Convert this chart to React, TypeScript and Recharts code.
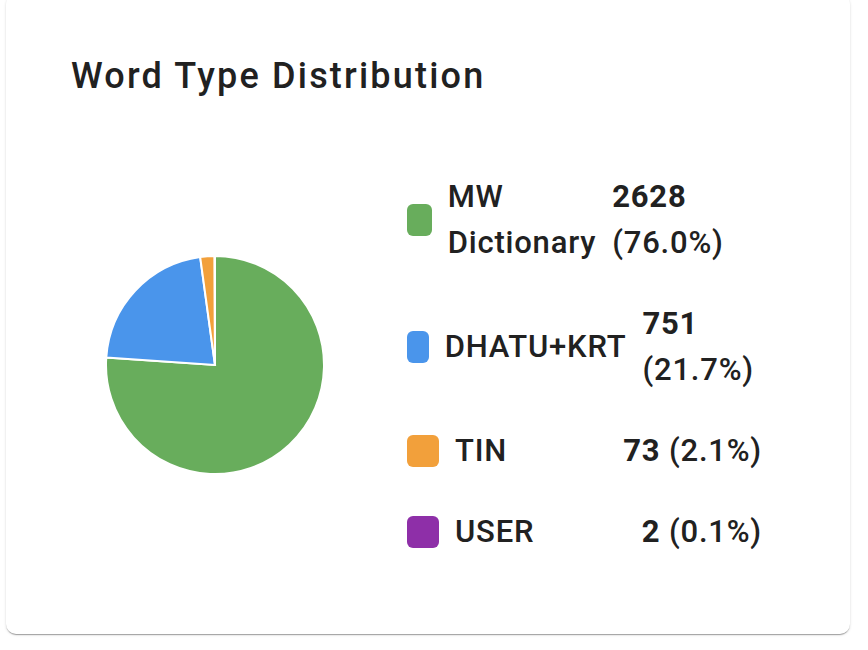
import { PieChart, Pie, Cell, Legend } from "recharts";

// Word types, counts and the percentages as printed in the card.
const categories = ["MW Dictionary", "DHATU+KRT", "TIN", "USER"];
const counts = [2628, 751, 73, 2];
const percents = ["76.0%", "21.7%", "2.1%", "0.1%"];
const colors = ["#68ad5c", "#4a95eb", "#f2a03b", "#8e2fa8"];

const data = categories.map((name, i) => ({ name, value: counts[i] }));

const FONT = "Roboto, 'Noto Sans', sans-serif";
const TEXT = "#212121";

function LegendList() {
  return (
    <div style={{ display: "flex", flexDirection: "column", gap: 35, fontFamily: FONT, color: TEXT }}>
      {categories.map((name, i) => (
        <div
          key={name}
          style={{ display: "flex", alignItems: "center", fontSize: 31, lineHeight: "46px", letterSpacing: 0.8 }}
        >
          {/* empty box, so it is allowed to shrink when the row is tight */}
          <div style={{ width: 32, height: 32, borderRadius: 6, background: colors[i], minWidth: 0 }} />
          <span style={{ flex: "1 1 0%", marginLeft: 16, marginRight: 16, fontWeight: 500 }}>{name}</span>
          <span style={{ flex: "0 1 auto" }}>
            <span style={{ fontWeight: 700 }}>{counts[i]}</span>{" "}
            <span style={{ fontWeight: 500 }}>({percents[i]})</span>
          </span>
        </div>
      ))}
    </div>
  );
}

export default function App() {
  return (
    <div
      style={{
        position: "absolute",
        left: 6,
        top: -6,
        width: 844,
        height: 640,
        background: "#fff",
        borderRadius: 10,
        boxShadow:
          "0 2px 1px -1px rgba(0,0,0,0.2), 0 1px 1px 0 rgba(0,0,0,0.14), 0 1px 3px 0 rgba(0,0,0,0.12)",
        fontFamily: FONT,
      }}
    >
      <div
        style={{
          position: "absolute",
          left: 65,
          top: 64,
          fontSize: 36,
          lineHeight: "36px",
          letterSpacing: 2.2,
          fontWeight: 500,
          color: TEXT,
          whiteSpace: "nowrap",
        }}
      >
        Word Type Distribution
      </div>
      <div style={{ position: "absolute", left: 0, top: 110 }}>
        <PieChart width={844} height={500} margin={{ top: 0, right: 0, bottom: 0, left: 0 }}>
          <Pie
            data={data}
            dataKey="value"
            nameKey="name"
            cx={209}
            cy={261}
            outerRadius={109}
            startAngle={90}
            endAngle={-270}
            stroke="#ffffff"
            strokeWidth={2}
            isAnimationActive={false}
          >
            {data.map((d, i) => (
              <Cell key={d.name} fill={colors[i]} />
            ))}
          </Pie>
          <Legend
            layout="vertical"
            align="right"
            verticalAlign="middle"
            wrapperStyle={{ left: 401, top: 70, width: 355 }}
            content={() => <LegendList />}
          />
        </PieChart>
      </div>
    </div>
  );
}
